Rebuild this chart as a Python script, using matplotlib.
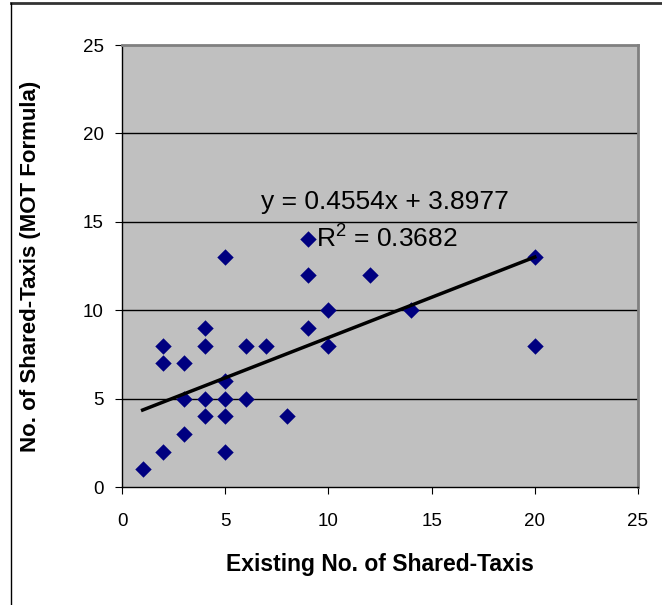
import matplotlib
matplotlib.use("Agg")
import matplotlib.pyplot as plt
from matplotlib.lines import Line2D
import numpy as np

plt.rcParams['font.family'] = ['Liberation Sans', 'DejaVu Sans']

existing = [1, 2, 2, 2, 3, 3, 3, 4, 4, 4, 4, 5, 5, 5, 5, 5, 6, 6, 7, 8, 9, 9, 9, 10, 10, 12, 14, 20, 20]
mot = [1, 2, 7, 8, 3, 5, 7, 4, 5, 8, 9, 2, 4, 5, 6, 13, 5, 8, 8, 4, 9, 12, 14, 8, 10, 12, 10, 13, 8]
slope = 0.4554
intercept = 3.8977
r2 = 0.3682
xticks = [0, 5, 10, 15, 20, 25]
yticks = [0, 5, 10, 15, 20, 25]

fig = plt.figure(figsize=(6.62, 6.05), dpi=100)
ax = fig.add_axes([122/662, 1-487/605, (638-122)/662, (487-45)/605])
ax.set_facecolor('#C0C0C0')

for yv in yticks[1:-1]:
    ax.axhline(yv, color='black', lw=1.0, zorder=1)

ax.scatter(existing, mot, marker='D', s=70, color='#000080', zorder=3, linewidths=0)

xl = np.array([min(existing), max(existing)])
ax.plot(xl, slope*xl + intercept, color='black', lw=2.5, zorder=4)

ax.set_xlim(0, 25)
ax.set_ylim(0, 25)
ax.set_xticks(xticks)
ax.set_yticks(yticks)
ax.tick_params(labelsize=13.5, length=5, direction='out')
ax.tick_params(axis='y', pad=8)
ax.tick_params(axis='x', pad=14)

ax.text(12.74, 16.1, 'y = %.4fx + %.4f' % (slope, intercept), fontsize=19, ha='center', va='center', zorder=5)
ax.text(9.4, 14.0, '$\\mathregular{R^2}$ = %.4f' % r2, fontsize=19, ha='left', va='center', zorder=5)

for s in ['left', 'bottom']:
    ax.spines[s].set_color('black')
    ax.spines[s].set_linewidth(1.0)
for s in ['top', 'right']:
    ax.spines[s].set_color('#808080')
    ax.spines[s].set_linewidth(2.0)

ax.set_xlabel('Existing No. of Shared-Taxis', fontsize=16.5, fontweight='bold', labelpad=16)
ax.set_ylabel('No. of Shared-Taxis (MOT Formula)', fontsize=16, fontweight='bold', labelpad=30)

# figure frame
fig.add_artist(Line2D([11/662, 1], [1-3/605, 1-3/605], color='#333333', lw=2, transform=fig.transFigure))
fig.add_artist(Line2D([11/662, 11/662], [0, 1-3/605], color='black', lw=1, transform=fig.transFigure))

fig.savefig('out.png', dpi=100)
